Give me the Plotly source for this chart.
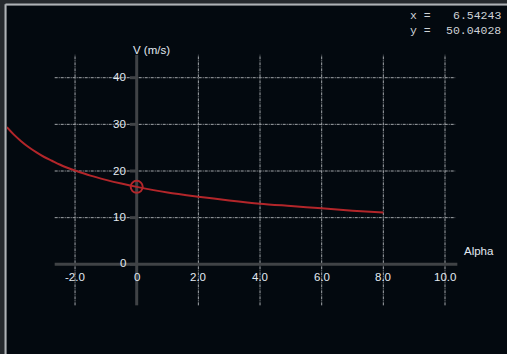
import plotly.graph_objects as go

# ---- data ----
alpha = [-4.21, -4.0, -3.75, -3.5, -3.25, -3.0, -2.75, -2.5, -2.25, -2.0, -1.5, -1.0, -0.5, 0.0,
         1.0, 2.0, 3.0, 4.0, 5.0, 6.0, 7.0, 8.0]
velocity = [29.4, 27.9, 26.4, 25.1, 24.0, 23.0, 22.2, 21.4, 20.7, 20.1, 19.0, 18.1, 17.3, 16.6,
            15.4, 14.5, 13.7, 13.0, 12.5, 12.0, 11.5, 11.1]
marker_x = [0.0]
marker_y = [16.6]

x_ticks = [-2, 0, 2, 4, 6, 8, 10]
x_tick_labels = ["-2.0", "0", "2.0", "4.0", "6.0", "8.0", "10.0"]
y_ticks = [0, 10, 20, 30, 40]
y_tick_labels = ["0", "10", "20", "30", "40"]

readout_labels = ["x =", "y ="]
readout_values = ["6.54243", "50.04028"]

# ---- styling ----
X_RANGE = [-4.207, 12.011]
Y_RANGE = [-19.23, 55.37]
GRID_X_SPAN = [-2.66, 10.33]
GRID_Y_SPAN = [-8.8, 44.9]
AXIS_X_SPAN = [-2.66, 10.4]
AXIS_Y_SPAN = [-8.8, 44.9]
GRID_COLOR = "#a4a8ac"
AXIS_COLOR = "#404346"
TEXT_COLOR = "#e2eaf2"
CURVE_COLOR = "#b3262a"
FONT = "Liberation Sans, Arial"

fig = go.Figure()

shapes = []
# grid lines
for xv in x_ticks:
    if xv == 0:
        continue
    shapes.append(dict(type="line", xref="x", yref="y", x0=xv, x1=xv,
                       y0=GRID_Y_SPAN[0], y1=GRID_Y_SPAN[1],
                       line=dict(color=GRID_COLOR, width=1, dash="3px,1px,1px,1px"),
                       layer="below"))
for yv in y_ticks:
    if yv == 0:
        continue
    shapes.append(dict(type="line", xref="x", yref="y", x0=GRID_X_SPAN[0], x1=GRID_X_SPAN[1],
                       y0=yv, y1=yv,
                       line=dict(color=GRID_COLOR, width=1, dash="3px,1px,1px,1px"),
                       layer="below"))
# axis lines
shapes.append(dict(type="line", xref="x", yref="y", x0=AXIS_X_SPAN[0], x1=AXIS_X_SPAN[1],
                   y0=0, y1=0, line=dict(color=AXIS_COLOR, width=3), layer="below"))
shapes.append(dict(type="line", xref="x", yref="y", x0=0, x1=0,
                   y0=AXIS_Y_SPAN[0], y1=AXIS_Y_SPAN[1],
                   line=dict(color=AXIS_COLOR, width=3), layer="below"))
# small y ticks
for yv in y_ticks:
    shapes.append(dict(type="line", xref="x", yref="y", x0=-0.22, x1=0, y0=yv, y1=yv,
                       line=dict(color=AXIS_COLOR, width=3), layer="below"))
# panel frame lines (left and top)
shapes.append(dict(type="line", xref="paper", yref="paper", x0=-0.003, x1=-0.003,
                   y0=-0.01, y1=1.005, line=dict(color="#aeb2b6", width=2)))
shapes.append(dict(type="line", xref="paper", yref="paper", x0=-0.003, x1=1.0,
                   y0=1.0043, y1=1.0043, line=dict(color="#aeb2b6", width=2)))

fig.add_trace(go.Scatter(x=alpha, y=velocity, mode="lines",
                         line=dict(color=CURVE_COLOR, width=2, shape="spline", smoothing=0.8),
                         hoverinfo="skip", showlegend=False))
fig.add_trace(go.Scatter(x=marker_x, y=marker_y, mode="markers",
                         marker=dict(size=12, color="rgba(0,0,0,0)",
                                     line=dict(color=CURVE_COLOR, width=2)),
                         hoverinfo="skip", showlegend=False))

annotations = []
for xv, lab in zip(x_ticks, x_tick_labels):
    annotations.append(dict(x=xv, y=-2.8, xref="x", yref="y", text=lab, showarrow=False,
                            xanchor="center", yanchor="middle",
                            font=dict(family=FONT, size=11.5, color=TEXT_COLOR)))
for yv, lab in zip(y_ticks, y_tick_labels):
    annotations.append(dict(x=-0.28, y=yv + (0.3 if yv == 0 else 0.1), xref="x", yref="y",
                            text=lab, showarrow=False,
                            xanchor="right", yanchor="middle",
                            font=dict(family=FONT, size=11.5, color=TEXT_COLOR)))
annotations.append(dict(x=-0.19, y=46.0, xref="x", yref="y", text="V (m/s)", showarrow=False,
                        xanchor="left", yanchor="middle",
                        font=dict(family=FONT, size=11.5, color=TEXT_COLOR)))
annotations.append(dict(x=10.55, y=2.85, xref="x", yref="y", text="Alpha", showarrow=False,
                        xanchor="left", yanchor="middle",
                        font=dict(family=FONT, size=11.5, color=TEXT_COLOR)))
for i, (lab, val) in enumerate(zip(readout_labels, readout_values)):
    ypx = 15.5 + 15 * i
    yp = 1 - (ypx - 6) / 348
    annotations.append(dict(x=(408 - 7) / 500, y=yp, xref="paper", yref="paper", text=lab,
                            showarrow=False, xanchor="left", yanchor="middle",
                            font=dict(family="Liberation Mono, DejaVu Sans Mono", size=11.5,
                                      color="#cfd3d7")))
    annotations.append(dict(x=(503 - 7) / 500, y=yp, xref="paper", yref="paper", text=val,
                            showarrow=False, xanchor="right", yanchor="middle",
                            font=dict(family="Liberation Mono, DejaVu Sans Mono", size=11.5,
                                      color="#cfd3d7")))

fig.update_layout(
    width=507, height=354,
    margin=dict(l=7, r=0, t=6, b=0, pad=0),
    paper_bgcolor="#25292d",
    plot_bgcolor="#03090f",
    xaxis=dict(range=X_RANGE, visible=False, fixedrange=True),
    yaxis=dict(range=Y_RANGE, visible=False, fixedrange=True),
    shapes=shapes,
    annotations=annotations,
    showlegend=False,
)

fig.write_html("out.html", config={"displayModeBar": False})
